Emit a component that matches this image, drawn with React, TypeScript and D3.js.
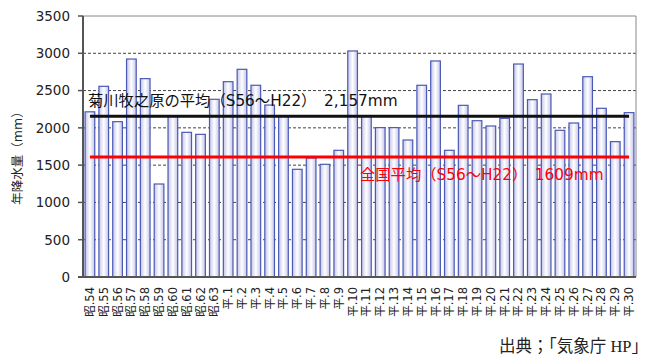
import React from 'react';
import * as d3 from 'd3';

const years = [
  '昭.54', '昭.55', '昭.56', '昭.57', '昭.58', '昭.59', '昭.60', '昭.61', '昭.62', '昭.63',
  '平.1', '平.2', '平.3', '平.4', '平.5', '平.6', '平.7', '平.8', '平.9', '平.10',
  '平.11', '平.12', '平.13', '平.14', '平.15', '平.16', '平.17', '平.18', '平.19', '平.20',
  '平.21', '平.22', '平.23', '平.24', '平.25', '平.26', '平.27', '平.28', '平.29', '平.30',
];

const rainfall = [
  2215, 2557, 2083, 2923, 2660, 1247, 2160, 1940, 1913, 2383,
  2619, 2785, 2571, 2306, 2155, 1444, 1596, 1511, 1699, 3031,
  2155, 2003, 2003, 1837, 2571, 2897, 1699, 2302, 2096, 2025,
  2128, 2856, 2378, 2454, 1967, 2065, 2686, 2262, 1815, 2204,
];

const yTicks = [0, 500, 1000, 1500, 2000, 2500, 3000, 3500];

const localAvg = 2157;
const localLabel = '菊川牧之原の平均（S56～H22）　2,157mm';
const nationalAvg = 1609;
const nationalLabel = '全国平均（S56～H22）　1609mm';
const yTitle = '年降水量（mm）';
const source = '出典；「気象庁 HP」';

const width = 656;
const height = 361;
const left = 83;
const right = 636;
const top = 16;
const bottom = 277;

const font = '"DejaVu Sans", Verdana, "Noto Sans CJK JP", sans-serif';

export default function App() {
  const x = d3.scaleBand<string>().domain(years).range([left, right]).paddingInner(0.3).paddingOuter(0.15);
  const y = d3.scaleLinear().domain([0, 3500]).range([bottom, top]);

  const firstC = (x(years[0]) as number) + x.bandwidth() / 2;
  const lastC = (x(years[years.length - 1]) as number) + x.bandwidth() / 2;

  return (
    <svg width={width} height={height} style={{ position: 'absolute', left: 0, top: 0, background: '#fff' }}>
      <defs>
        <linearGradient id="barFill" x1="0" x2="1" y1="0" y2="0">
          <stop offset="0" stopColor="#c4c4ea" />
          <stop offset="0.5" stopColor="#ffffff" />
          <stop offset="1" stopColor="#c4c4ea" />
        </linearGradient>
      </defs>

      {/* grid */}
      {yTicks.filter((t) => t > 0 && t < 3500).map((t) => (
        <line key={t} x1={left} x2={right} y1={y(t)} y2={y(t)} stroke="#444" strokeWidth={1} strokeDasharray="3,2" />
      ))}
      <line x1={left} x2={right} y1={y(3500)} y2={y(3500)} stroke="#888" strokeWidth={1} />
      <line x1={right} x2={right} y1={top} y2={bottom} stroke="#888" strokeWidth={1} />

      {/* bars */}
      {rainfall.map((v, i) => (
        <rect
          key={years[i]}
          x={x(years[i])}
          y={y(v)}
          width={x.bandwidth()}
          height={bottom - y(v)}
          fill="url(#barFill)"
          stroke="#4b5ab4"
          strokeWidth={1.2}
        />
      ))}

      {/* axes */}
      <line x1={left} x2={left} y1={top} y2={bottom} stroke="#555" strokeWidth={2} />
      <line x1={left - 5} x2={right} y1={bottom} y2={bottom} stroke="#555" strokeWidth={2} />
      {yTicks.map((t) => (
        <g key={t}>
          <line x1={left - 5} x2={left} y1={y(t)} y2={y(t)} stroke="#555" strokeWidth={1.5} />
          <text x={70} y={y(t)} dy="0.36em" textAnchor="end" fontSize={13.5} fontFamily={font} fill="#222">
            {t}
          </text>
        </g>
      ))}
      {years.map((c) => (
        <text
          key={c}
          transform={`translate(${(x(c) as number) + x.bandwidth() / 2 + 4},${bottom + 10}) rotate(-90)`}
          textAnchor="end"
          fontSize={11.5}
          fontFamily={font}
          fill="#222"
        >
          {c}
        </text>
      ))}

      {/* averages */}
      <line x1={firstC} x2={lastC} y1={y(localAvg)} y2={y(localAvg)} stroke="#111" strokeWidth={3} />
      <line x1={firstC} x2={lastC} y1={y(nationalAvg)} y2={y(nationalAvg)} stroke="#ff0000" strokeWidth={3} />
      <text x={88} y={106} fontSize={15.3} fontFamily={font} fill="#111">
        {localLabel}
      </text>
      <text x={360} y={180} fontSize={15.3} fontFamily={font} fill="#ff0000">
        {nationalLabel}
      </text>

      <text transform={`translate(22,155) rotate(-90)`} textAnchor="middle" fontSize={12.5} fontFamily={font} fill="#222">
        {yTitle}
      </text>

      <text x={648} y={352} textAnchor="end" fontSize={16.5} fontFamily='"Liberation Serif", "Noto Sans CJK JP", serif' fill="#222">
        {source}
      </text>
    </svg>
  );
}
